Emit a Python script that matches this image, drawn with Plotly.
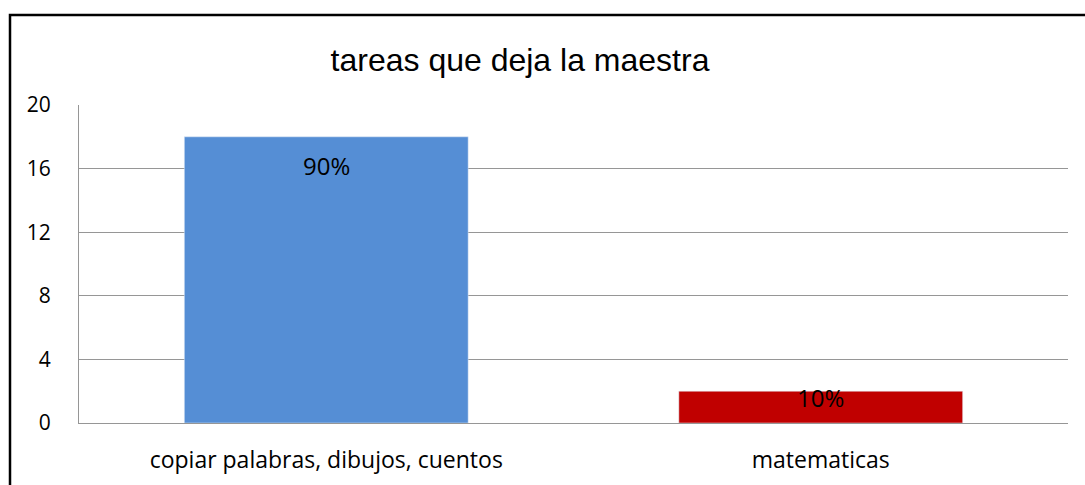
import plotly.graph_objects as go

categories = ["copiar palabras, dibujos, cuentos", "matematicas"]
values = [18, 2]
labels = ["90%", "10%"]
colors = ["#558ED5", "#C00000"]

fig = go.Figure(data=[go.Bar(
    x=categories,
    y=values,
    marker_color=colors,
    hoverinfo="x+y",
)])

# data labels, placed like Excel's "inside end"
label_shifts = [-29, -6]
for cat, val, lab, sh in zip(categories, values, labels, label_shifts):
    fig.add_annotation(x=cat, y=val, text=lab, showarrow=False, yanchor="middle",
                       yshift=sh, font=dict(family="Open Sans", size=24, color="black"))

fig.update_layout(
    width=1085, height=485,
    margin=dict(l=79, r=17, t=105, b=62),
    paper_bgcolor="white", plot_bgcolor="white",
    bargap=0.426,
    showlegend=False,
    title=dict(text="tareas que deja la maestra", x=520/1085, xref="container", xanchor="center",
               y=1 - 60/485, yref="container", yanchor="middle",
               font=dict(family="Liberation Sans", size=32, color="black")),
    font=dict(family="Open Sans", size=21, color="black"),
)
fig.update_yaxes(range=[0, 20], dtick=4, showgrid=True, gridcolor="#969696", gridwidth=1,
                 showline=True, linecolor="#969696", linewidth=1, zeroline=False,
                 ticks="", ticklabelstandoff=23, automargin=False,
                 tickfont=dict(family="Open Sans", size=21))
fig.update_xaxes(showline=True, linecolor="#969696", linewidth=1, ticks="",
                 ticklabelstandoff=16, automargin=False,
                 tickfont=dict(family="Open Sans", size=23))

# chart frame: only left and top edges are in view
fx0 = (10 - 79) / 989
fy1 = 1 + (105 - 15) / 318
fig.add_shape(type="path", xref="paper", yref="paper",
              path=f"M {fx0},-0.5 L {fx0},{fy1} L 1.2,{fy1}",
              line=dict(color="black", width=2.5), layer="above")

# drop the default body margin so the figure fills the window exactly
fig.write_html("out.html", config={"displayModeBar": False},
               post_script="document.body.style.margin='0';document.body.style.overflow='hidden';")
